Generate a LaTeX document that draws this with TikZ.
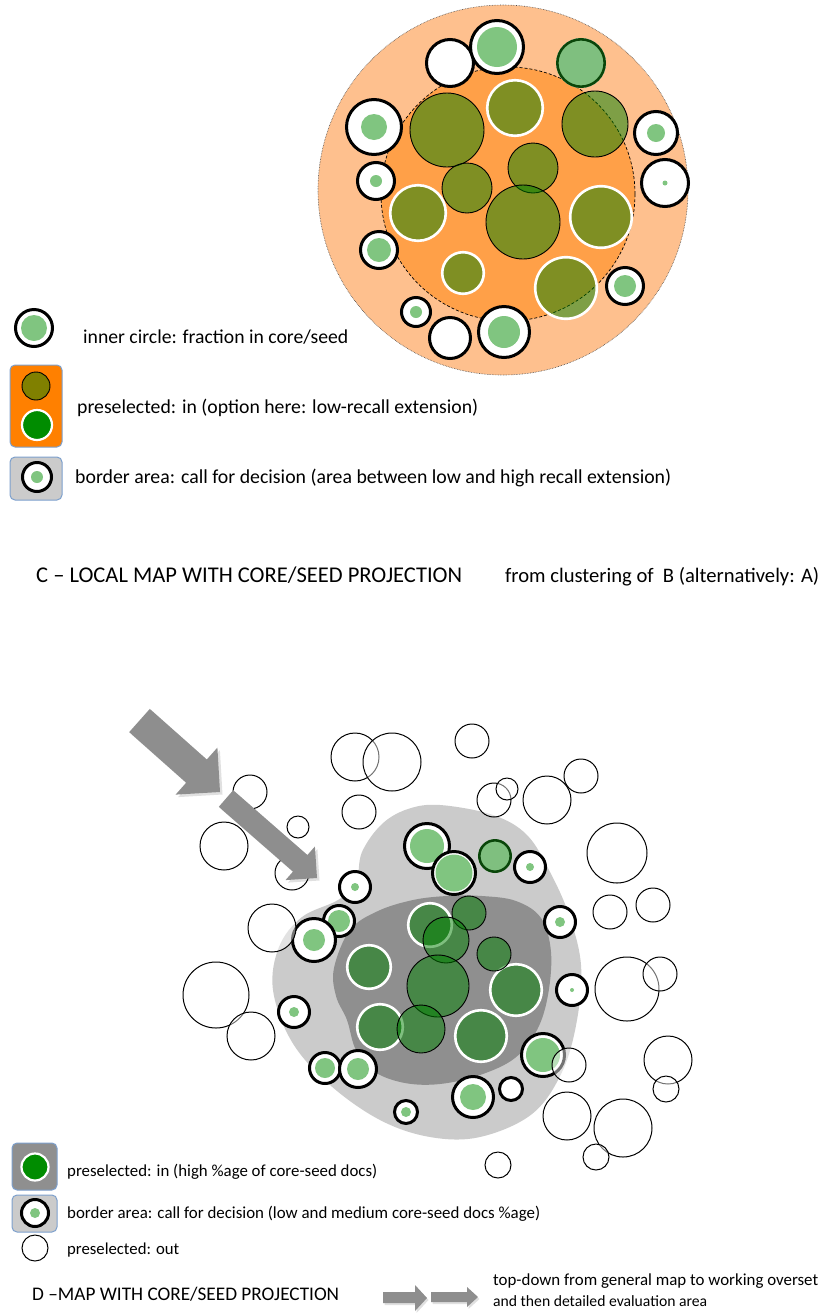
\documentclass[tikz,border=0pt]{standalone}
\usepackage{fontspec}
\setmainfont{Carlito}
\usepackage{graphicx}
\definecolor{peach}{RGB}{254,192,142}
\definecolor{orng}{RGB}{255,160,72}
\definecolor{gdeep}{RGB}{0,128,0}
\definecolor{lgreen}{RGB}{128,197,128}
\definecolor{lgray}{RGB}{203,203,203}
\definecolor{dgray}{RGB}{143,143,143}
\definecolor{arrowgray}{RGB}{142,142,142}
\definecolor{boxblue}{RGB}{125,160,205}
\definecolor{legorange}{RGB}{255,128,0}
\definecolor{legolive}{RGB}{128,128,0}
\definecolor{leggreen}{RGB}{0,140,0}
\definecolor{ringgreen}{RGB}{10,70,10}
\newcommand{\fitw}[2]{\resizebox{#1pt}{!}{\fontsize{20}{24}\selectfont #2}}
% ring with seed dot: x, y, outer radius, dot radius
\newcommand{\ringdot}[4]{%
  \draw[borderring] (#1,#2) circle[radius=#3pt-1.5pt];
  \fill[seeddot] (#1,#2) circle[radius=#4pt];}
\newcommand{\ringonly}[3]{%
  \draw[borderring] (#1,#2) circle[radius=#3pt-1.5pt];}
\newcommand{\greenring}[3]{%
  \fill[white] (#1,#2) circle[radius=#3pt];
  \draw[fill=gdeep, fill opacity=0.5, draw=ringgreen, line width=2.6pt] (#1,#2) circle[radius=#3pt-1.3pt];}
\newcommand{\gin}[3]{\draw[greenin] (#1,#2) circle[radius=#3pt];}
\newcommand{\gwh}[3]{\draw[greenwhite] (#1,#2) circle[radius=#3pt-1.2pt];}
\newcommand{\outc}[3]{\draw[outring] (#1,#2) circle[radius=#3pt];}
\begin{document}
\begin{tikzpicture}[x=1pt,y=-1pt,
  borderring/.style={draw=black, line width=3pt, fill=white},
  seeddot/.style={fill=lgreen},
  greenin/.style={fill=gdeep, fill opacity=0.5, draw=black, line width=0.9pt},
  greenwhite/.style={fill=gdeep, fill opacity=0.5, draw=white, line width=2.6pt},
  outring/.style={draw=black, line width=1pt, fill=white, fill opacity=0.45},
  txt/.style={anchor=base west, inner sep=0pt, text=black},
  blockarrow/.style={fill=arrowgray},
  arrowshadow/.style={fill=black, opacity=0.12},
  legbox/.style={draw=boxblue, line width=1pt, rounded corners=5pt}]
\useasboundingbox (0,0) rectangle (822,1315);
\fill[white] (0,0) rectangle (822,1315);

% ================= C : local map =================
\draw[densely dotted, draw=black!70, line width=0.6pt, fill=peach] (503,190) circle[radius=185pt];
\draw[dash pattern=on 3pt off 2pt, line width=0.7pt, fill=orng] (508,194) circle[radius=127pt];

% preselected (green over orange)
\gwh{515}{108}{29}
\gwh{418}{213}{29}
\gwh{601}{217}{32}
\gwh{463}{273}{22}
\gwh{566}{288}{32}
\gin{447}{130}{37}
\gin{595}{124}{33}
\gin{533}{168}{25}
\gin{467}{188}{25}
\gin{523}{222}{37}

% border rings
\ringonly{450}{63}{25}
\ringdot{497}{47}{28}{20}
\greenring{581}{63}{25}
\ringdot{374}{127}{29}{13}
\ringdot{656}{133}{23}{9}
\ringdot{376}{181}{20}{6}
\ringdot{665}{183}{25}{2.5}
\ringdot{379}{250}{20}{12}
\ringdot{625}{286}{20}{11}
\ringdot{416}{312}{16}{6}
\ringonly{450}{338}{22}
\ringdot{504}{332}{27}{16}

% legend C
\ringdot{34}{328}{20}{13}
\node[txt] (legC1) at (83,343) {\fitw{265}{inner circle: fraction in core/seed}};
\draw[legbox, fill=legorange] (10,365) rectangle (62,447);
\draw[fill=legolive, draw=black, line width=0.9pt] (36,386) circle[radius=14pt];
\draw[fill=leggreen, draw=white, line width=2.2pt] (37,425) circle[radius=15pt];
\node[txt] (legC2) at (77,413) {\fitw{401}{preselected: in (option here: low-recall extension)}};
\draw[legbox, fill=lgray] (10,457) rectangle (62,500);
\ringdot{37}{477}{16}{6}
\node[txt] (legC3) at (75,483) {\fitw{596}{border area: call for decision (area between low and high recall extension)}};

\node[txt] (titleC) at (36,582) {\fitw{426}{C -- LOCAL MAP WITH CORE/SEED PROJECTION}};
\node[txt] (noteC) at (505,582) {\fitw{314}{from clustering of\ \ B (alternatively: A)}};

% ================= D : map =================
\fill[lgray] plot[smooth cycle, tension=0.6] coordinates {
 (440,805) (493,815) (527,835) (550,872) (569,915) (581,965) (577,1020)
 (562,1072) (532,1114) (480,1137) (430,1137) (380,1120) (330,1085)
 (292,1042) (273,990) (279,947) (302,917) (338,900) (356,882) (362,852)
 (382,824) (408,809)};
\fill[dgray] plot[smooth cycle, tension=0.6] coordinates {
 (334,968) (350,930) (378,911) (413,900) (447,896) (482,896) (516,901)
 (541,918) (551,952) (548,995) (537,1030) (515,1058) (480,1075)
 (440,1084) (405,1083) (375,1072) (356,1050) (347,1020) (336,996)};

% preselected in
\gwh{430}{925}{23}
\gwh{369}{967}{23}
\gwh{516}{990}{27}
\gwh{380}{1027}{24}
\gwh{481}{1036}{27}
\gin{469}{913}{17}
\gin{446}{940}{23}
\gin{494}{954}{17}
\gin{438}{986}{31}
\gin{421}{1029}{24}

% border rings
\ringdot{427}{846}{24}{17}
\ringdot{454}{873}{23}{18.5}
\greenring{495}{856}{17}
\ringdot{530}{867}{17}{4}
\ringdot{355}{887}{17}{4}
\ringdot{339}{921}{17}{11}
\ringdot{314}{940}{23}{11}
\ringdot{560}{922}{17}{5}
\ringdot{572}{990}{17}{2}
\ringdot{294}{1012}{17}{5}
\ringdot{325}{1068}{17}{10}
\ringdot{358}{1069}{20}{11}
\ringdot{543}{1055}{23}{17}
\ringdot{473}{1097}{22}{13}
\ringonly{511}{1089}{13}
\ringdot{406}{1112}{13}{5}

% preselected out
\outc{355}{757}{24}
\outc{392}{762}{29}
\outc{472}{741}{17}
\outc{359}{812}{17}
\outc{494}{800}{17}
\outc{507}{789}{11}
\outc{547}{800}{24}
\outc{581}{776}{17}
\outc{617}{853}{30}
\outc{250}{792}{17}
\outc{298}{827}{11}
\outc{224}{846}{24}
\outc{292}{873}{17}
\outc{272}{928}{24}
\outc{216}{995}{33}
\outc{251}{1036}{24}
\outc{610}{912}{17}
\outc{653}{905}{17}
\outc{627}{989}{32}
\outc{660}{974}{17}
\outc{668}{1060}{24}
\outc{666}{1089}{13}
\outc{569}{1065}{17}
\outc{567}{1116}{24}
\outc{623}{1128}{29}
\outc{596}{1157}{13}
\outc{498}{1165}{13}

% big arrows
\begin{scope}[shift={(2.5,2.5)}]
\fill[arrowshadow] (129.2,732.1) -- (149.8,708.9) -- (206.8,759.5) -- (217.4,747.6) -- (220,792) -- (175.6,794.6) -- (186.2,782.7) -- cycle;
\fill[arrowshadow] (218.8,806.8) -- (233.2,790.2) -- (307.4,855.0) -- (314.9,846.5) -- (317,878) -- (285.5,880.1) -- (293.0,871.6) -- cycle;
\end{scope}
\fill[blockarrow] (129.2,732.1) -- (149.8,708.9) -- (206.8,759.5) -- (217.4,747.6) -- (220,792) -- (175.6,794.6) -- (186.2,782.7) -- cycle;
\fill[blockarrow] (218.8,806.8) -- (233.2,790.2) -- (307.4,855.0) -- (314.9,846.5) -- (317,878) -- (285.5,880.1) -- (293.0,871.6) -- cycle;

% legend D
\draw[legbox, fill=dgray] (12,1143) rectangle (57,1190);
\draw[fill=leggreen, draw=white, line width=2.2pt] (35,1167) circle[radius=13.5pt];
\node[txt] (legD1) at (67,1176) {\fitw{310}{preselected: in (high \%age of core-seed docs)}};
\draw[legbox, fill=lgray] (12,1195) rectangle (57,1232);
\ringdot{35}{1213}{15}{5}
\node[txt] (legD2) at (67,1218) {\fitw{473}{border area: call for decision (low and medium core-seed docs \%age)}};
\draw[line width=1pt] (35,1248) circle[radius=13pt];
\node[txt] (legD3) at (67,1254) {\fitw{112}{preselected: out}};

\node[txt] (titleD) at (32,1300) {\fitw{307}{D --MAP WITH CORE/SEED PROJECTION}};

% small arrows
\begin{scope}[shift={(1.5,2)}]
\fill[arrowshadow] (383,1292) -- (415,1292) -- (415,1285) -- (427,1298) -- (415,1311) -- (415,1303) -- (383,1303) -- cycle;
\fill[arrowshadow] (431,1292) -- (467,1292) -- (467,1287) -- (478,1297) -- (467,1307) -- (467,1302) -- (431,1302) -- cycle;
\end{scope}
\fill[blockarrow] (383,1292) -- (415,1292) -- (415,1285) -- (427,1298) -- (415,1311) -- (415,1303) -- (383,1303) -- cycle;
\fill[blockarrow] (431,1292) -- (467,1292) -- (467,1287) -- (478,1297) -- (467,1307) -- (467,1302) -- (431,1302) -- cycle;
\node[txt] (noteD1) at (493,1285) {\fitw{325}{top-down from general map to working overset}};
\node[txt] (noteD2) at (493,1306) {\fitw{214}{and then detailed evaluation area}};
\end{tikzpicture}
\end{document}
